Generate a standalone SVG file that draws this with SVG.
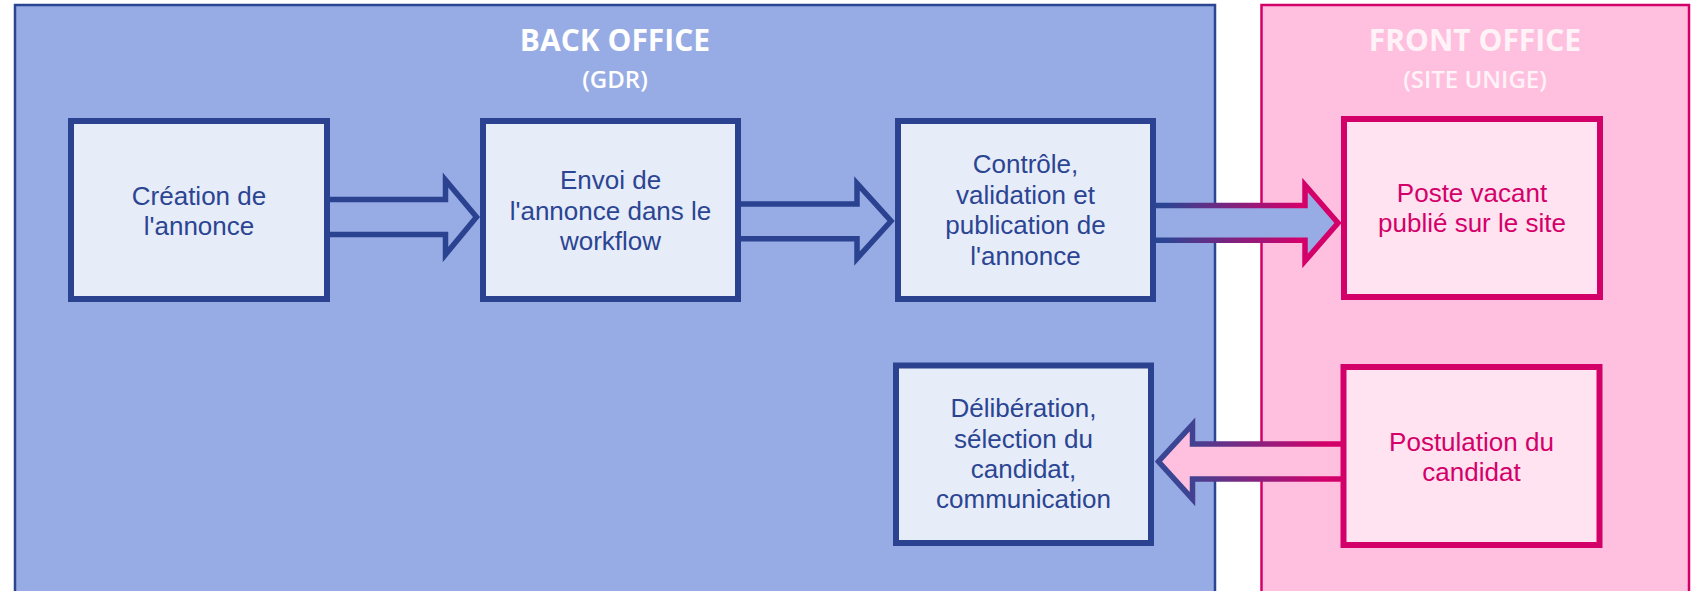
<svg xmlns="http://www.w3.org/2000/svg" width="1697" height="591" viewBox="0 0 1697 591">
<defs>
<linearGradient id="g3" gradientUnits="userSpaceOnUse" x1="1165" y1="0" x2="1300" y2="0">
<stop offset="0" stop-color="#2B4593"/><stop offset="1" stop-color="#D4006A"/>
</linearGradient>
<linearGradient id="g4" gradientUnits="userSpaceOnUse" x1="1185" y1="0" x2="1325" y2="0">
<stop offset="0" stop-color="#3A4594"/><stop offset="1" stop-color="#D4006A"/>
</linearGradient>
<style>
.bpanel{fill:#97ACE4;stroke:#2B4593;stroke-width:2.5}
.fpanel{fill:#FFC0DF;stroke:#D4006A;stroke-width:2.5}
.bbox{fill:#E6ECF8;stroke:#2A4290;stroke-width:6}
.fbox{fill:#FFE3F0;stroke:#D4006A;stroke-width:6}
.bt{font-family:"Liberation Sans",Arial,sans-serif;font-size:26px;fill:#2B4593;text-anchor:middle}
.ft{font-family:"Liberation Sans",Arial,sans-serif;font-size:26px;fill:#D4006A;text-anchor:middle}
.title{font-family:"Open Sans",sans-serif;font-weight:700;font-size:30px;text-anchor:middle}
.sub{font-family:"Open Sans",sans-serif;font-weight:600;font-size:24px;text-anchor:middle}
.arr{stroke-width:5.5;stroke-linejoin:miter;stroke-miterlimit:10}
</style>
</defs>
<rect width="1697" height="591" fill="#FFFFFF"/>
<g id="back-office">
<rect class="bpanel" x="15" y="5" width="1200" height="600"/>
<text class="title" x="615" y="51" fill="#FFFFFF">BACK OFFICE</text>
<text class="sub" x="615" y="88" fill="#FFFFFF">(GDR)</text>
</g>
<g id="front-office">
<rect class="fpanel" x="1261.5" y="5" width="427.5" height="600"/>
<text class="title" x="1475" y="51" fill="#FFF3F8">FRONT OFFICE</text>
<text class="sub" x="1475" y="88" fill="#FFF3F8">(SITE UNIGE)</text>
</g>
<g id="connectors">
<path class="arr" d="M 330 199.5 H 445.5 V 180 L 476.5 217 L 445.5 254.5 V 234.5 H 330" fill="#97ACE4" stroke="#2A4290"/>
<path class="arr" d="M 738 204 H 857 V 183.5 L 891 221 L 857 258.5 V 238.7 H 738" fill="#97ACE4" stroke="#2A4290"/>
<path class="arr" d="M 1153 205.5 H 1305 V 185 L 1338 223 L 1305 261 V 240.3 H 1153" fill="#97ACE4" stroke="url(#g3)"/>
<path class="arr" d="M 1343.5 444 H 1192.5 V 424.5 L 1158.5 461.5 L 1192.5 499 V 479 H 1343.5" fill="#FFC0DF" stroke="url(#g4)"/>
</g>
<g id="node-creation">
<rect class="bbox" x="71" y="121" width="256" height="178"/>
<text class="bt" x="199" y="205">Création de</text>
<text class="bt" x="199" y="235">l'annonce</text>
</g>
<g id="node-envoi">
<rect class="bbox" x="483" y="121" width="255" height="178"/>
<text class="bt" x="610.5" y="189">Envoi de</text>
<text class="bt" x="610.5" y="220">l'annonce dans le</text>
<text class="bt" x="610.5" y="250">workflow</text>
</g>
<g id="node-controle">
<rect class="bbox" x="898" y="121" width="255" height="178"/>
<text class="bt" x="1025.5" y="173">Contrôle,</text>
<text class="bt" x="1025.5" y="204">validation et</text>
<text class="bt" x="1025.5" y="234">publication de</text>
<text class="bt" x="1025.5" y="265">l'annonce</text>
</g>
<g id="node-poste">
<rect class="fbox" x="1344" y="119" width="256" height="178"/>
<text class="ft" x="1472" y="202">Poste vacant</text>
<text class="ft" x="1472" y="232">publié sur le site</text>
</g>
<g id="node-deliberation">
<rect class="bbox" x="896" y="365.5" width="255" height="177.5"/>
<text class="bt" x="1023.5" y="417">Délibération,</text>
<text class="bt" x="1023.5" y="448">sélection du</text>
<text class="bt" x="1023.5" y="478">candidat,</text>
<text class="bt" x="1023.5" y="508">communication</text>
</g>
<g id="node-postulation">
<rect class="fbox" x="1343.5" y="367" width="256" height="178"/>
<text class="ft" x="1471.5" y="451">Postulation du</text>
<text class="ft" x="1471.5" y="481">candidat</text>
</g>
</svg>
